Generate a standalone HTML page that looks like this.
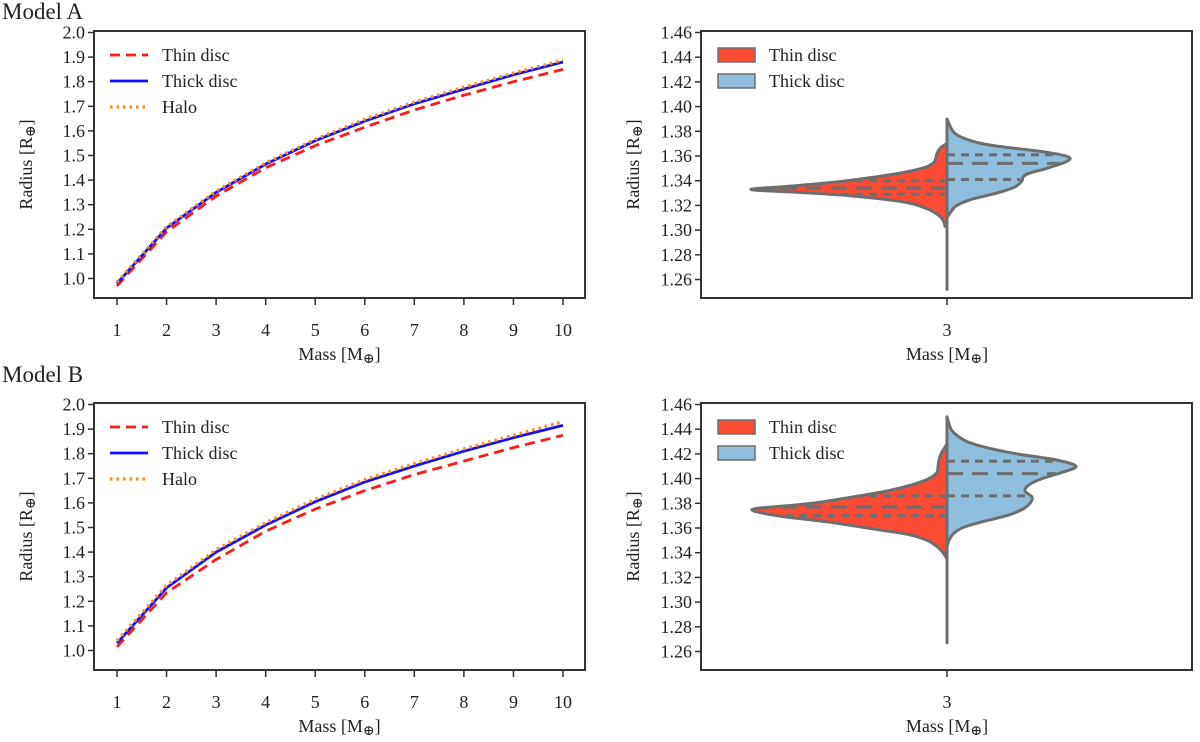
<!DOCTYPE html>
<html><head><meta charset="utf-8"><style>
body{margin:0;background:#fff}
svg text{font-family:"Liberation Serif","DejaVu Serif",serif;fill:#222}
</style></head><body>
<svg id="chart" width="1200" height="737" viewBox="0 0 1200 737" xmlns="http://www.w3.org/2000/svg"></svg>
<script>
// ---- data ----
const masses = [1,2,3,4,5,6,7,8,9,10];
const aThin  = [0.970,1.190,1.335,1.450,1.540,1.615,1.685,1.745,1.800,1.850];
const aThick = [0.980,1.205,1.350,1.465,1.560,1.640,1.710,1.770,1.828,1.880];
const aHalo  = [0.985,1.210,1.355,1.470,1.566,1.647,1.717,1.778,1.835,1.888];
const bThin  = [1.015,1.235,1.370,1.485,1.575,1.650,1.715,1.770,1.825,1.875];
const bThick = [1.030,1.255,1.400,1.510,1.605,1.685,1.750,1.810,1.865,1.915];
const bHalo  = [1.040,1.265,1.410,1.520,1.615,1.695,1.760,1.820,1.875,1.930];
const lineYTicks = [1.0,1.1,1.2,1.3,1.4,1.5,1.6,1.7,1.8,1.9,2.0];
const violinYTicks = [1.26,1.28,1.30,1.32,1.34,1.36,1.38,1.40,1.42,1.44,1.46];
// violin densities (radius, relative density)
const aThinY  = [1.303,1.308,1.313,1.318,1.323,1.328,1.331,1.333,1.336,1.340,1.345,1.350,1.353,1.356,1.362,1.367,1.370];
const aThinD  = [2,4,10,22,45,100,160,196,150,100,55,25,16,12,10,6,0];
const aThickY = [1.310,1.315,1.320,1.325,1.330,1.335,1.340,1.343,1.346,1.350,1.355,1.359,1.363,1.367,1.370,1.375,1.380,1.390];
const aThickD = [0,4,10,25,50,68,75,76,82,100,118,122,100,60,35,15,6,0];
const bThinY  = [1.335,1.340,1.345,1.350,1.355,1.360,1.365,1.370,1.375,1.378,1.380,1.385,1.390,1.395,1.400,1.405,1.410,1.415,1.420,1.428];
const bThinD  = [0,4,10,20,40,80,120,170,195,160,135,95,60,35,18,10,9,8,6,0];
const bThickY = [1.345,1.350,1.355,1.360,1.365,1.370,1.375,1.380,1.385,1.390,1.395,1.400,1.405,1.410,1.415,1.420,1.425,1.430,1.435,1.440,1.450];
const bThickD = [0,2,6,15,35,60,75,83,85,78,82,95,115,129,110,70,40,20,10,4,0];
const aThinQ = [1.329,1.334,1.340], aThickQ = [1.341,1.354,1.361];
const bThinQ = [1.370,1.377,1.386], bThickQ = [1.386,1.404,1.414];
const aStick = [1.252,1.31], bStick = [1.267,1.345];

const NS="http://www.w3.org/2000/svg";
const svg=document.getElementById('chart');
const FS=18;
function el(tag,attrs,parent,txt){const e=document.createElementNS(NS,tag);for(const k in attrs)e.setAttribute(k,attrs[k]);if(txt!==undefined)e.textContent=txt;(parent||svg).appendChild(e);return e;}

function axesFrame(g,x0,x1,y0,y1){
  const r=el('rect',{x:x0,y:y0,width:x1-x0,height:y1-y0,fill:'none',stroke:'#333','stroke-width':2},g);
  
  
}
function yAxis(g,ticks,fy,x0,fmt,labelY){
  ticks.forEach(t=>{
    const y=fy(t);
    const l=el('line',{x1:x0-6,x2:x0,y1:y,y2:y,stroke:'#333','stroke-width':1.5},g);
    
    
    const tx=el('text',{x:x0-9,y:y+6,'text-anchor':'end','font-size':FS},g,t.toFixed(fmt));
    
    
  });
  const lab=el('text',{x:0,y:0,'text-anchor':'middle','font-size':FS,transform:`translate(${x0-62},${labelY}) rotate(-90)`},g);
  
  
  lab.innerHTML='Radius [R<tspan font-size="14" dy="3">⊕</tspan><tspan dy="-3">]</tspan>';
}
function xTitle(g,cx,y){
  const lab=el('text',{x:cx,y:y,'text-anchor':'middle','font-size':FS},g);
  
  
  lab.innerHTML='Mass [M<tspan font-size="14" dy="3">⊕</tspan><tspan dy="-3">]</tspan>';
}

function linePanel(top,bot,thin,thick,halo,title,titleY){
  const g=el('g',{});
  
  
  const t=el('text',{x:2,y:titleY,'font-size':23},g,title);
  
  
  const x0=94,x1=585;
  const fx=m=>117+(m-1)*(563-117)/9;
  const fy=v=>(top+1.5)+(2.0-v)*((bot-19.5)-(top+1.5))/1.0;
  axesFrame(g,x0,x1,top,bot);
  yAxis(g,lineYTicks,fy,x0,1,(top+bot)/2);
  masses.forEach(m=>{
    const x=fx(m);
    const l=el('line',{x1:x,x2:x,y1:bot,y2:bot+7,stroke:'#333','stroke-width':1.5},g);
    
    
    const tx=el('text',{x:x,y:bot+38,'text-anchor':'middle','font-size':FS},g,String(m));
    
    
  });
  xTitle(g,(x0+x1)/2,bot+62);
  const series=[[thin,'#ff1a1a','10,6','thin-disc-line',2.8],[thick,'#1010ff','','thick-disc-line',2.8],[halo,'#ff8c1a','2.5,4','halo-line',3.2]];
  series.forEach(([vals,c,dash,name,w])=>{
    const d=vals.map((v,i)=>(i?'L':'M')+fx(masses[i]).toFixed(1)+','+fy(v).toFixed(1)).join('');
    const p=el('path',{d:d,fill:'none',stroke:c,'stroke-width':w,'stroke-dasharray':dash},g);
    
    
  });
  const names=['Thin disc','Thick disc','Halo'];
  series.forEach(([v,c,dash,n,w],i)=>{
    const y=top+24+i*26;
    const lg=el('g',{},g);
    
    
    el('line',{x1:110,x2:148,y1:y,y2:y,stroke:c,'stroke-width':w,'stroke-dasharray':dash},lg);
    el('text',{x:162,y:y+6,'font-size':FS},lg,names[i]);
  });
}

function smoothPath(pts){
  let d='M'+pts[0][0].toFixed(1)+','+pts[0][1].toFixed(1);
  for(let i=0;i<pts.length-1;i++){
    const p0=pts[i-1]||pts[i],p1=pts[i],p2=pts[i+1],p3=pts[i+2]||p2;
    const c1=[p1[0]+(p2[0]-p0[0])/6,p1[1]+(p2[1]-p0[1])/6];
    const c2=[p2[0]-(p3[0]-p1[0])/6,p2[1]-(p3[1]-p1[1])/6];
    d+=`C${c1[0].toFixed(1)},${c1[1].toFixed(1)} ${c2[0].toFixed(1)},${c2[1].toFixed(1)} ${p2[0].toFixed(1)},${p2[1].toFixed(1)}`;
  }
  return d;
}

function violinPanel(top,bot,tY,tD,kY,kD,tQ,kQ,stick){
  const g=el('g',{});
  
  
  const x0=701,x1=1192,cx=947;
  const y146=top+1.5,y126=bot-18.5;
  const fy=v=>y146+(1.46-v)*(y126-y146)/0.2;
  const fw=d=>d;
  axesFrame(g,x0,x1,top,bot);
  yAxis(g,violinYTicks,fy,x0,2,(top+bot)/2);
  const l=el('line',{x1:cx,x2:cx,y1:bot,y2:bot+7,stroke:'#333','stroke-width':1.5},g);
  
  
  const tx=el('text',{x:cx,y:bot+38,'text-anchor':'middle','font-size':FS},g,'3');
  
  
  xTitle(g,cx,bot+62);
  const st=el('line',{x1:cx,x2:cx,y1:fy(stick[0]),y2:fy(stick[1]),stroke:'#6e6e6e','stroke-width':3,'stroke-linecap':'round'},g);
  
  
  [[tY,tD,-1,'#fc4a33',tQ,'thin-disc-violin'],[kY,kD,1,'#8fbfdd',kQ,'thick-disc-violin']].forEach(([ys,ds,s,c,q,name])=>{
    const pts=ys.map((y,i)=>[cx+s*fw(ds[i]),fy(y)]);
    const d=smoothPath(pts)+`L${cx},${fy(ys[ys.length-1])}L${cx},${fy(ys[0])}Z`;
    const p=el('path',{d:d,fill:c,stroke:'#6e6e6e','stroke-width':3,'stroke-linejoin':'round'},g);
    
    
    q.forEach((qv,qi)=>{
      let w=0;
      for(let i=0;i<ys.length-1;i++){if(qv>=ys[i]&&qv<=ys[i+1]){const f=(qv-ys[i])/(ys[i+1]-ys[i]);w=ds[i]+f*(ds[i+1]-ds[i]);break;}}
      const ql=el('line',{x1:cx,x2:cx+s*(fw(w)-2),y1:fy(qv),y2:fy(qv),stroke:'#6e6e6e','stroke-width':3,'stroke-dasharray':qi===1?'16,9':'8,6'},g);
      
      
    });
  });
  const names=[['Thin disc','#fc4a33'],['Thick disc','#8fbfdd']];
  names.forEach(([n,c],i)=>{
    const y=top+24+i*26;
    const lg=el('g',{},g);
    
    
    el('rect',{x:718,y:y-7,width:37,height:14,fill:c,stroke:'#6e6e6e','stroke-width':1.5},lg);
    el('text',{x:769,y:y+6,'font-size':FS},lg,n);
  });
}

linePanel(31,298,aThin,aThick,aHalo,'Model A',19);
violinPanel(31,298,aThinY,aThinD,aThickY,aThickD,aThinQ,aThickQ,aStick);
linePanel(403,670,bThin,bThick,bHalo,'Model B',382);
violinPanel(403,670,bThinY,bThinD,bThickY,bThickD,bThinQ,bThickQ,bStick);
</script>
</body></html>
